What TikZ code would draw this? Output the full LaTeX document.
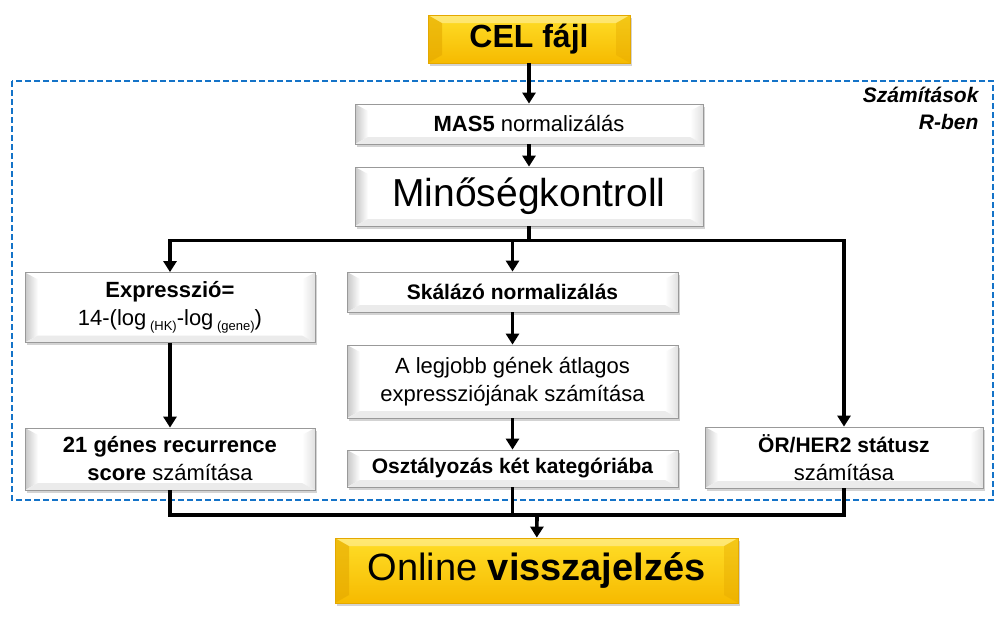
\documentclass[tikz,border=0pt]{standalone}
\usepackage{fontspec}
\setmainfont{Liberation Sans}
\usetikzlibrary{positioning,arrows.meta,shadows}

\definecolor{goldtop}{RGB}{255,222,40}
\definecolor{goldbot}{RGB}{246,186,0}
\definecolor{goldedge}{RGB}{228,168,0}
\definecolor{framblue}{RGB}{20,115,200}

\newcommand{\fsz}[2]{\fontsize{#1}{#2}\selectfont}
\newcommand{\lowsub}[1]{\raisebox{-5pt}{\fsz{13}{13}#1}}

\begin{document}
\begin{tikzpicture}[
  x=1pt, y=1pt,
  stepbox/.style={draw=black!40, fill=white, line width=0.8pt, align=center,
                  inner sep=0pt, font=\fsz{22}{28},
                  drop shadow={opacity=0.35, shadow xshift=2pt, shadow yshift=-2.5pt},
                  path picture={
                    \coordinate (bnw) at (path picture bounding box.north west);
                    \coordinate (bsw) at (path picture bounding box.south west);
                    \coordinate (bne) at (path picture bounding box.north east);
                    \coordinate (bse) at (path picture bounding box.south east);
                    \shade[left color=black!22, right color=white]
                      (bsw) -- (bnw) -- ([shift={(13pt,-7pt)}]bnw) -- ([shift={(13pt,7pt)}]bsw) -- cycle;
                    \shade[left color=white, right color=black!12]
                      (bse) -- (bne) -- ([shift={(-13pt,-7pt)}]bne) -- ([shift={(-13pt,7pt)}]bse) -- cycle;
                    \fill[black!8]
                      (bsw) -- ([shift={(13pt,7pt)}]bsw) -- ([shift={(-13pt,7pt)}]bse) -- (bse) -- cycle;
                  }},
  goldbox/.style={draw=goldedge, top color=goldtop, bottom color=goldbot,
                  line width=0.8pt, align=center, inner sep=0pt,
                  drop shadow={opacity=0.35, shadow xshift=2pt, shadow yshift=-2.5pt},
                  path picture={
                    \coordinate (gnw) at (path picture bounding box.north west);
                    \coordinate (gsw) at (path picture bounding box.south west);
                    \coordinate (gne) at (path picture bounding box.north east);
                    \coordinate (gse) at (path picture bounding box.south east);
                    \fill[goldedge, opacity=0.6]
                      (gsw) -- (gnw) -- ([shift={(14pt,-8pt)}]gnw) -- ([shift={(14pt,8pt)}]gsw) -- cycle;
                    \fill[goldedge, opacity=0.4]
                      (gse) -- (gne) -- ([shift={(-14pt,-8pt)}]gne) -- ([shift={(-14pt,8pt)}]gse) -- cycle;
                    \fill[white, opacity=0.35]
                      (gnw) -- ([shift={(14pt,-8pt)}]gnw) -- ([shift={(-14pt,-8pt)}]gne) -- (gne) -- cycle;
                  }},
  flow/.style={-{Triangle[length=11pt, width=13pt]}, line width=3.6pt},
  wire/.style={line width=3.6pt},
]
  \useasboundingbox (0,0) rectangle (1007,-616);

  % R frame
  \draw[framblue, line width=1.6pt, dash pattern=on 6pt off 3pt]
    (12,-81) rectangle (993,-500);
  \node[anchor=north east, align=right, font=\fsz{21}{27}\bfseries\itshape]
    (rlab) at (982,-84) {Számítások\\R-ben};

  % main column
  \node[goldbox, minimum width=202pt, minimum height=48pt, font=\fsz{32}{36}\bfseries]
    (cel) at (529,-39) {CEL fájl};
  \node[stepbox, minimum width=348pt, minimum height=40pt]
    (mas) at (529,-124) {\textbf{MAS5} normalizálás};
  \node[stepbox, minimum width=348pt, minimum height=59pt, font=\fsz{39}{44}]
    (qc) at (529,-196.5) {Minőségkontroll};

  % branches
  \node[stepbox, minimum width=290pt, minimum height=70pt]
    (expr) at (170,-307.5) {\textbf{Expresszió=}\\14-(log\,\lowsub{(HK)}-log\,\lowsub{(gene)})};
  \node[stepbox, minimum width=290pt, minimum height=62pt]
    (rs) at (170,-459) {\textbf{21 génes recurrence}\\\textbf{score} számítása};

  \node[stepbox, minimum width=331pt, minimum height=40pt, font=\fsz{21}{27}\bfseries]
    (scale) at (512.5,-292) {Skálázó normalizálás};
  \node[stepbox, minimum width=331pt, minimum height=73pt]
    (best) at (512.5,-381.5) {A legjobb gének átlagos\\expressziójának számítása};
  \node[stepbox, minimum width=331pt, minimum height=37pt, font=\fsz{21}{27}\bfseries]
    (cls) at (512.5,-468.5) {Osztályozás két kategóriába};

  \node[stepbox, minimum width=278pt, minimum height=61pt]
    (her) at (844,-457.5) {{\fsz{21}{27}\bfseries ÖR/HER2 státusz}\\számítása};

  \node[goldbox, minimum width=403pt, minimum height=65pt, font=\fsz{38}{44}]
    (online) at (536.5,-570.5) {Online \textbf{visszajelzés}};

  % connectors
  \draw[flow] (cel) -- (mas);
  \draw[flow] (mas) -- (qc);
  \draw[wire] (qc.south) -- ++(0,-14) coordinate (split);
  \foreach \t in {expr, scale, her}
    \draw[flow] (split) -| (\t.north);
  \foreach \a/\b in {expr/rs, scale/best, best/cls}
    \draw[flow] (\a) -- (\b);

  \coordinate (join) at (537,-515);
  \foreach \s in {rs, cls, her}
    \draw[wire] (\s.south) |- (join);
  \draw[flow] (join) -- (online);
\end{tikzpicture}
\end{document}
